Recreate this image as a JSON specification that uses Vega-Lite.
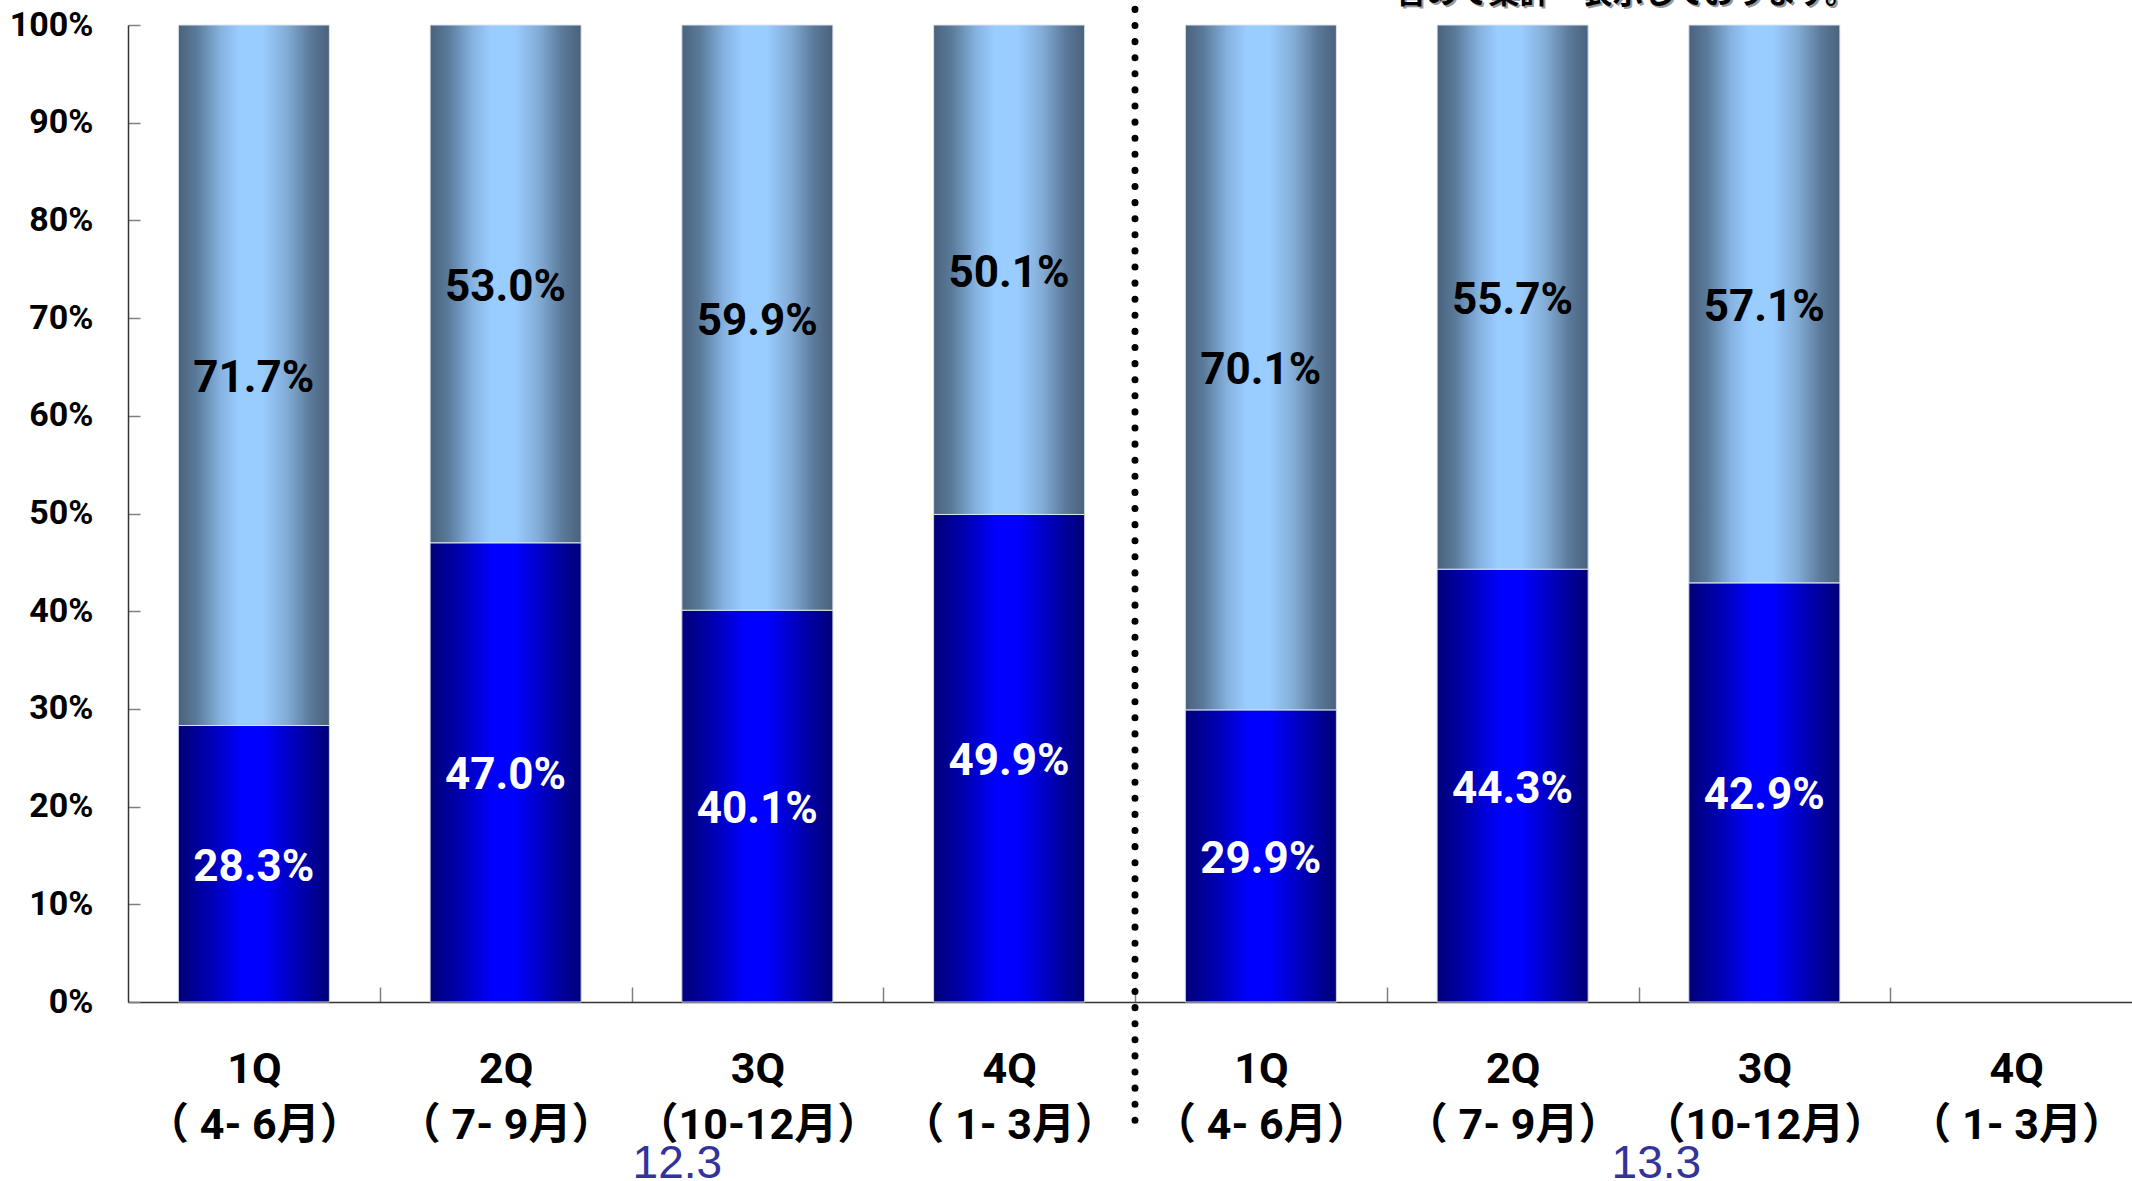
{
  "$schema": "https://vega.github.io/schema/vega-lite/v6.json",
  "width": 2014,
  "height": 977,
  "autosize": {"type": "none"},
  "padding": {"left": 128, "top": 25, "right": -10, "bottom": 179},
  "background": "white",
  "config": {"view": {"stroke": null}, "axis": {"grid": false}},
  "datasets": {
    "shares": [
      {"cat": "12|1Q|（ 4- 6月）", "lower": 0.283, "upper": 0.717},
      {"cat": "12|2Q|（ 7- 9月）", "lower": 0.470, "upper": 0.530},
      {"cat": "12|3Q|（10-12月）", "lower": 0.401, "upper": 0.599},
      {"cat": "12|4Q|（ 1- 3月）", "lower": 0.499, "upper": 0.501},
      {"cat": "13|1Q|（ 4- 6月）", "lower": 0.299, "upper": 0.701},
      {"cat": "13|2Q|（ 7- 9月）", "lower": 0.443, "upper": 0.557},
      {"cat": "13|3Q|（10-12月）", "lower": 0.429, "upper": 0.571}
    ],
    "periods": [
      {"period": "12.3", "cat": "12|3Q|（10-12月）"},
      {"period": "13.3", "cat": "13|3Q|（10-12月）"}
    ]
  },
  "encoding": {
    "x": {
      "field": "cat",
      "type": "nominal",
      "scale": {
        "domain": ["12|1Q|（ 4- 6月）", "12|2Q|（ 7- 9月）", "12|3Q|（10-12月）", "12|4Q|（ 1- 3月）", "13|1Q|（ 4- 6月）", "13|2Q|（ 7- 9月）", "13|3Q|（10-12月）", "13|4Q|（ 1- 3月）"],
        "paddingInner": 0.4,
        "paddingOuter": 0.2
      },
      "axis": {
        "title": null,
        "labelAngle": 0,
        "labelExpr": "slice(split(datum.label, '|'), 1)",
        "labelFont": "Roboto, Noto Sans CJK JP",
        "labelFontSize": 43,
        "labelFontWeight": "bold",
        "labelColor": "black",
        "labelLineHeight": 56,
        "labelBaseline": "top",
        "labelAlign": "center",
        "labelPadding": 61,
        "labelLimit": 0,
        "labelOverlap": false,
        "labelBound": false,
        "labelFlush": false,
        "tickBand": "center",
        "tickOffset": 125.875,
        "labelOffset": -125.875,
        "tickSize": -15,
        "tickColor": "#808080",
        "tickWidth": 1.5,
        "domainColor": "#333333",
        "domainWidth": 1.5
      }
    }
  },
  "layer": [
    {
      "data": {"name": "shares"},
      "transform": [
        {"fold": ["lower", "upper"], "as": ["seg", "value"]},
        {"stack": "value", "groupby": ["cat"], "sort": [{"field": "seg", "order": "ascending"}], "as": ["v0", "v1"]},
        {"calculate": "(datum.v0 + datum.v1) / 2", "as": "mid"}
      ],
      "layer": [
        {
          "transform": [{"filter": "datum.seg === 'lower'"}],
          "mark": {
            "type": "bar",
            "stroke": "#d0d4e8",
            "strokeWidth": 1,
            "fill": {
              "gradient": "linear", "x1": 0, "y1": 0, "x2": 1, "y2": 0,
              "stops": [
                {"offset": 0, "color": "#000078"},
                {"offset": 0.2, "color": "#0000b0"},
                {"offset": 0.42, "color": "#0000ff"},
                {"offset": 0.56, "color": "#0000ff"},
                {"offset": 0.8, "color": "#0000b0"},
                {"offset": 1, "color": "#000078"}
              ]
            }
          },
          "encoding": {
            "y": {
              "field": "v0", "type": "quantitative",
              "scale": {"domain": [0, 1]},
              "axis": {
                "title": null,
                "values": [0, 0.1, 0.2, 0.3, 0.4, 0.5, 0.6, 0.7, 0.8, 0.9, 1],
                "format": ".0%",
                "labelFont": "Roboto",
                "labelFontSize": 34,
                "labelFontWeight": "bold",
                "labelColor": "black",
                "labelPadding": 47,
                "labelBaseline": "middle",
                "tickSize": -12,
                "tickColor": "#808080",
                "tickWidth": 1.5,
                "domainColor": "#333333",
                "domainWidth": 1.5
              }
            },
            "y2": {"field": "v1"}
          }
        },
        {
          "transform": [{"filter": "datum.seg === 'upper'"}],
          "mark": {
            "type": "bar",
            "stroke": "#dde4ee",
            "strokeWidth": 1,
            "fill": {
              "gradient": "linear", "x1": 0, "y1": 0, "x2": 1, "y2": 0,
              "stops": [
                {"offset": 0, "color": "#4a627c"},
                {"offset": 0.12, "color": "#5a7a9a"},
                {"offset": 0.28, "color": "#85b2e0"},
                {"offset": 0.4, "color": "#99ccff"},
                {"offset": 0.56, "color": "#99ccff"},
                {"offset": 0.72, "color": "#82acd6"},
                {"offset": 0.88, "color": "#5a7898"},
                {"offset": 1, "color": "#4a627c"}
              ]
            }
          },
          "encoding": {
            "y": {"field": "v0", "type": "quantitative"},
            "y2": {"field": "v1"}
          }
        },
        {
          "mark": {
            "type": "text",
            "font": "Roboto",
            "fontSize": 44,
            "fontWeight": "bold",
            "baseline": "middle",
            "align": "center",
            "dy": 4
          },
          "encoding": {
            "y": {"field": "mid", "type": "quantitative"},
            "text": {"field": "value", "format": ".1%"},
            "color": {"condition": {"test": "datum.seg === 'lower'", "value": "white"}, "value": "black"}
          }
        }
      ]
    },
    {
      "data": {"values": [{}]},
      "mark": {"type": "rule", "color": "black", "strokeWidth": 7, "strokeCap": "round", "strokeDash": [0.1, 16]},
      "encoding": {
        "x": {"datum": "12|4Q|（ 1- 3月）", "bandPosition": 1.3333},
        "y": {"datum": 1.016},
        "y2": {"datum": -0.131}
      }
    },
    {
      "data": {"name": "periods"},
      "transform": [{"filter": "datum.period === '12.3'"}],
      "mark": {"type": "text", "font": "Liberation Sans", "fontSize": 46, "color": "#333399", "baseline": "middle", "align": "center", "dx": -80, "dy": 162},
      "encoding": {
        "y": {"datum": 0},
        "text": {"field": "period"}
      }
    },
    {
      "data": {"name": "periods"},
      "transform": [{"filter": "datum.period === '13.3'"}],
      "mark": {"type": "text", "font": "Liberation Sans", "fontSize": 46, "color": "#333399", "baseline": "middle", "align": "center", "dx": -108, "dy": 162},
      "encoding": {
        "y": {"datum": 0},
        "text": {"field": "period"}
      }
    },
    {
      "data": {"values": [{"note": "含めて集計・表示しております。"}]},
      "mark": {"type": "text", "font": "Noto Sans CJK JP", "fontSize": 31, "fontWeight": "bold", "color": "#999999", "baseline": "alphabetic", "align": "center", "dx": 115, "dy": -20},
      "encoding": {
        "x": {"datum": "13|2Q|（ 7- 9月）"},
        "y": {"datum": 1},
        "text": {"field": "note"}
      }
    },
    {
      "data": {"values": [{"note": "含めて集計・表示しております。"}]},
      "mark": {"type": "text", "font": "Noto Sans CJK JP", "fontSize": 31, "fontWeight": "bold", "color": "black", "baseline": "alphabetic", "align": "center", "dx": 113, "dy": -22},
      "encoding": {
        "x": {"datum": "13|2Q|（ 7- 9月）"},
        "y": {"datum": 1},
        "text": {"field": "note"}
      }
    }
  ]
}
